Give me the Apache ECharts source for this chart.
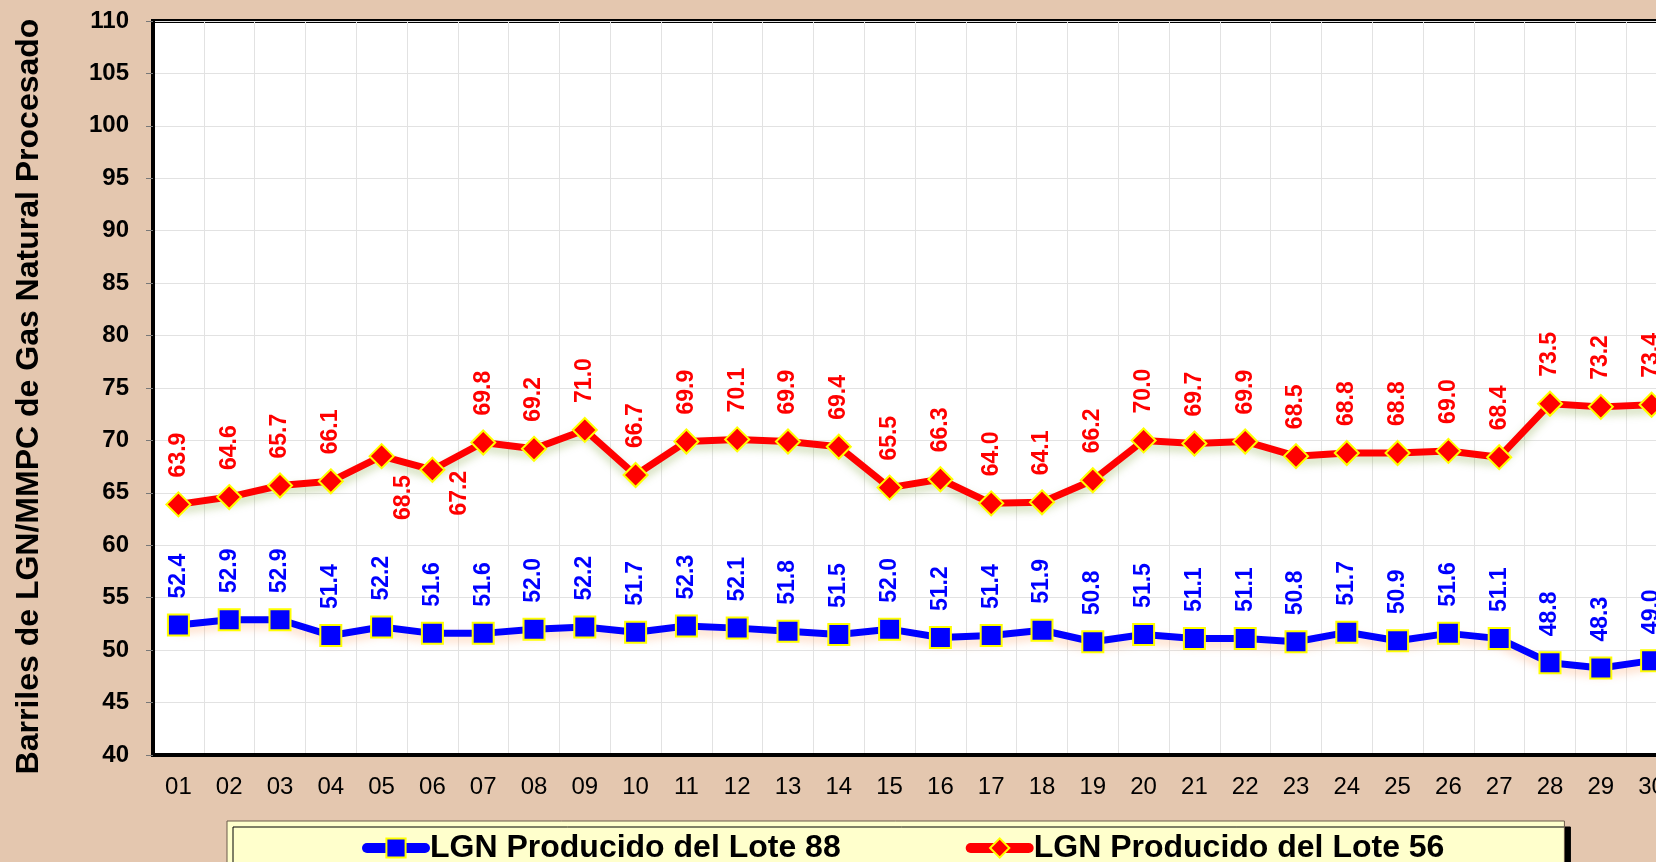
<!DOCTYPE html>
<html>
<head>
<meta charset="utf-8">
<script src="https://cdn.jsdelivr.net/npm/echarts@6/dist/echarts.min.js"></script>
<style>
  html, body { margin: 0; padding: 0; background: #e4c7af; }
  #chart { width: 1656px; height: 862px; }
</style>
</head>
<body>
<div id="chart"></div>
<script>
'use strict'

var days = ['01', '02', '03', '04', '05', '06', '07', '08', '09', '10',
    '11', '12', '13', '14', '15', '16', '17', '18', '19', '20',
    '21', '22', '23', '24', '25', '26', '27', '28', '29', '30'];

var lote88 = [52.4, 52.9, 52.9, 51.4, 52.2, 51.6, 51.6, 52.0, 52.2, 51.7,
    52.3, 52.1, 51.8, 51.5, 52.0, 51.2, 51.4, 51.9, 50.8, 51.5,
    51.1, 51.1, 50.8, 51.7, 50.9, 51.6, 51.1, 48.8, 48.3, 49.0];

var lote56 = [63.9, 64.6, 65.7, 66.1, 68.5, 67.2, 69.8, 69.2, 71.0, 66.7,
    69.9, 70.1, 69.9, 69.4, 65.5, 66.3, 64.0, 64.1, 66.2, 70.0,
    69.7, 69.9, 68.5, 68.8, 68.8, 69.0, 68.4, 73.5, 73.2, 73.4];

var yMin = 40, yMax = 110, yStep = 5;

var font = "'Liberation Sans', Arial, sans-serif";

/*-----labels of day 05 and 06 (lote 56) sit under the line-----*/
var belowLabel = { 4: [35, 32], 5: [40, 14] };
var data56 = lote56.map(function (v, i) {
    if (belowLabel[i]) {
        return {
            value: v,
            label: { position: belowLabel[i], align: 'right', verticalAlign: 'middle' }
        };
    }
    return v;
});

var chart = echarts.init(document.getElementById('chart'));
var option = {
    backgroundColor: '#e4c7af',
    animation: false,
    grid: {
        left: 153,
        top: 21,
        width: 1524,
        bottom: 107,
        outerBoundsMode: 'none',
        show: true,
        backgroundColor: '#ffffff',
        borderColor: '#000000',
        borderWidth: 4
    },
    legend: {
        left: 227,
        top: 821,
        padding: [11, 120, 24, 135],
        itemWidth: 58,
        itemHeight: 24,
        itemGap: 125,
        backgroundColor: '#ffffcc',
        borderColor: '#6b5a4a',
        borderWidth: 1,
        shadowColor: '#000000',
        shadowOffsetX: 6,
        shadowOffsetY: 6,
        shadowBlur: 0,
        lineStyle: {
            width: 10,
            cap: 'round'
        },
        textStyle: {
            fontFamily: font,
            fontSize: 32,
            fontWeight: 'bold',
            color: '#000000'
        },
        data: ['LGN Producido del Lote 88', 'LGN Producido del Lote 56']
    },
    xAxis: {
        type: 'category',
        data: days,
        boundaryGap: true,
        axisLine: {
            lineStyle: { color: '#000000', width: 4 }
        },
        axisTick: {
            length: 8,
            lineStyle: { color: '#333333', width: 1 }
        },
        axisLabel: {
            fontFamily: font,
            fontSize: 24,
            color: '#000000',
            margin: 20
        },
        splitLine: {
            show: true,
            lineStyle: { color: '#e2e2e2', width: 1 }
        }
    },
    yAxis: {
        type: 'value',
        min: yMin,
        max: yMax,
        interval: yStep,
        name: 'Barriles de LGN/MMPC de Gas Natural Procesado',
        nameLocation: 'middle',
        nameRotate: 90,
        nameGap: 108,
        nameTextStyle: {
            fontFamily: font,
            fontSize: 32,
            fontWeight: 'bold',
            color: '#000000',
            padding: [0, 17, 0, 0]
        },
        axisLine: {
            show: true,
            lineStyle: { color: '#000000', width: 4 }
        },
        axisTick: {
            show: true,
            length: 7,
            lineStyle: { color: '#777777', width: 1 }
        },
        axisLabel: {
            fontFamily: font,
            fontSize: 24,
            fontWeight: 'bold',
            color: '#000000',
            margin: 24
        },
        splitLine: {
            lineStyle: { color: '#e2e2e2', width: 1 }
        }
    },
    series: [{
        name: 'LGN Producido del Lote 88',
        type: 'line',
        data: lote88,
        symbol: 'rect',
        symbolSize: 21,
        color: '#0000ff',
        lineStyle: {
            color: '#0000ff',
            width: 7,
            shadowColor: 'rgba(255, 150, 80, 0.35)',
            shadowBlur: 8,
            shadowOffsetY: 5
        },
        itemStyle: {
            color: '#0000ff',
            borderColor: '#ffff00',
            borderWidth: 2
        },
        label: {
            show: true,
            position: 'top',
            distance: 15,
            rotate: 90,
            align: 'left',
            verticalAlign: 'middle',
            formatter: function (p) { return p.value.toFixed(1); },
            fontFamily: font,
            fontSize: 23,
            fontWeight: 'bold',
            color: '#0000ff'
        }
    }, {
        name: 'LGN Producido del Lote 56',
        type: 'line',
        data: data56,
        symbol: 'diamond',
        symbolSize: 24,
        color: '#ff0000',
        lineStyle: {
            color: '#ff0000',
            width: 7,
            shadowColor: 'rgba(110, 150, 30, 0.35)',
            shadowBlur: 8,
            shadowOffsetY: 5
        },
        itemStyle: {
            color: '#ff0000',
            borderColor: '#ffff00',
            borderWidth: 2
        },
        label: {
            show: true,
            position: 'top',
            distance: 14,
            rotate: 90,
            align: 'left',
            verticalAlign: 'middle',
            formatter: function (p) { return p.value.toFixed(1); },
            fontFamily: font,
            fontSize: 23,
            fontWeight: 'bold',
            color: '#ff0000'
        }
    }]
};
chart.setOption(option);
window.addEventListener('resize', function () {
    chart.resize();
});
</script>
</body>
</html>
